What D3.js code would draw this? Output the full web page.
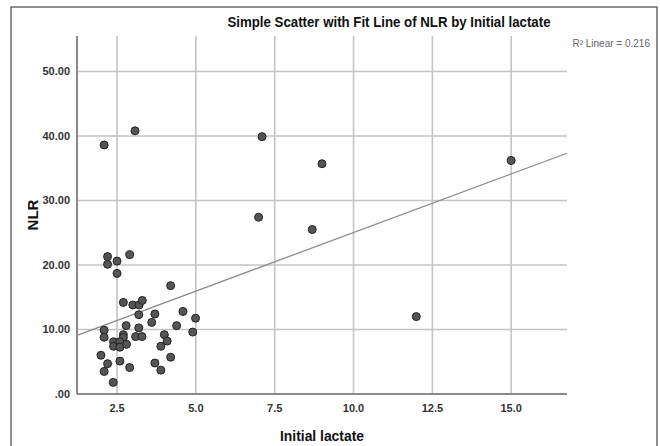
<!DOCTYPE html>
<html>
<head>
<meta charset="utf-8">
<script src="https://cdn.jsdelivr.net/npm/d3@7"></script>
<style>
    body { margin: 0; background: #fff; }
    svg { display: block; font-family: "Liberation Sans", Arial, sans-serif; }
    .grid line { stroke: #c4c4c4; stroke-width: 1.6; }
    .axis-line { stroke: #8a8a8a; stroke-width: 2; }
    .tick-label { font-size: 11px; fill: #333; font-weight: bold; }
    .fit-line { stroke: #8c8c8c; stroke-width: 1.3; fill: none; }
    .dot { fill: #555; stroke: #222; stroke-width: 1; }
</style>
</head>
<body>
<svg id="chart" width="660" height="446"></svg>
<script>
// Initial lactate values (x)
const lactate = [
    2.09, 3.07, 7.10, 9.00, 6.99, 8.69, 11.99, 15.0,
    2.20, 2.20, 2.50, 2.90, 2.50, 4.20,
    2.70, 3.00, 3.20, 3.30, 3.19, 3.70, 4.59, 4.99,
    3.60, 4.39, 2.79, 3.19, 4.90, 2.09, 2.09,
    2.70, 2.70, 3.09, 3.29, 4.00, 4.09,
    2.39, 2.39, 2.59, 2.59, 2.80, 3.89,
    1.99, 2.20, 2.09, 2.59, 2.90, 3.70, 4.20, 3.89, 2.38
];
// NLR values (y), same order
const nlr = [
    38.6, 40.8, 39.9, 35.7, 27.4, 25.5, 12.0, 36.2,
    21.3, 20.1, 20.6, 21.6, 18.7, 16.8,
    14.2, 13.8, 13.8, 14.5, 12.3, 12.4, 12.8, 11.75,
    11.1, 10.6, 10.6, 10.25, 9.6, 9.9, 8.8,
    9.2, 8.75, 8.9, 8.9, 9.2, 8.2,
    8.1, 7.4, 8.1, 7.25, 7.7, 7.4,
    6.0, 4.7, 3.5, 5.1, 4.1, 4.8, 5.7, 3.7, 1.8
];
const xTicks = [2.5, 5.0, 7.5, 10.0, 12.5, 15.0];
const yTicks = [0, 10, 20, 30, 40, 50];
// linear fit: NLR = intercept + slope * lactate
const fitIntercept = 6.87;
const fitSlope = 1.816;
const rSquared = 0.216;

const svg = d3.select('#chart');

// outer frame
svg.append('rect')
    .attr('x', 11).attr('y', 7)
    .attr('width', 646).attr('height', 460)
    .attr('fill', 'none')
    .attr('stroke', '#6a6a6a')
    .attr('stroke-width', 1.5);

const x = d3.scaleLinear().domain([1.23, 16.77]).range([77, 567]);
const y = d3.scaleLinear().domain([0, 55.5]).range([394, 36]);

// gridlines
const grid = svg.append('g').attr('class', 'grid');
grid.selectAll('.vg')
    .data(xTicks)
    .enter().append('line')
    .attr('x1', d => x(d)).attr('x2', d => x(d))
    .attr('y1', y.range()[1]).attr('y2', y.range()[0]);
grid.selectAll('.hg')
    .data(yTicks.filter(d => d > 0))
    .enter().append('line')
    .attr('x1', x.range()[0]).attr('x2', x.range()[1])
    .attr('y1', d => y(d)).attr('y2', d => y(d));

// axis lines
svg.append('line').attr('class', 'axis-line')
    .attr('x1', x.range()[0]).attr('x2', x.range()[1])
    .attr('y1', y(0)).attr('y2', y(0));
svg.append('line').attr('class', 'axis-line')
    .attr('x1', x.range()[0]).attr('x2', x.range()[0])
    .attr('y1', y.range()[1]).attr('y2', y(0));

// tick labels
const fmtY = d => d === 0 ? '.00' : d3.format('.2f')(d);
svg.selectAll('.ylab')
    .data(yTicks)
    .enter().append('text')
    .attr('class', 'tick-label')
    .attr('x', 70)
    .attr('y', d => y(d))
    .attr('dy', '0.35em')
    .attr('text-anchor', 'end')
    .text(fmtY);
svg.selectAll('.xlab')
    .data(xTicks)
    .enter().append('text')
    .attr('class', 'tick-label')
    .attr('x', d => x(d))
    .attr('y', 412)
    .attr('text-anchor', 'middle')
    .text(d3.format('.1f'));

// fit line
const xd = x.domain();
svg.append('path')
    .attr('class', 'fit-line')
    .attr('d', d3.line()
        .x(d => x(d))
        .y(d => y(fitIntercept + fitSlope * d))(xd));

// points
const points = lactate.map((v, i) => ({ x: v, y: nlr[i] }));
svg.append('g')
    .selectAll('circle')
    .data(points)
    .enter().append('circle')
    .attr('class', 'dot')
    .attr('cx', d => x(d.x))
    .attr('cy', d => y(d.y))
    .attr('r', 4);

// title
svg.append('text')
    .attr('x', 389).attr('y', 27)
    .attr('text-anchor', 'middle')
    .attr('font-size', 14)
    .attr('font-weight', 'bold')
    .attr('fill', '#111')
    .attr('textLength', 323)
    .attr('lengthAdjust', 'spacingAndGlyphs')
    .text('Simple Scatter with Fit Line of NLR by Initial lactate');

// R squared note
svg.append('text')
    .attr('x', 650).attr('y', 47)
    .attr('text-anchor', 'end')
    .attr('font-size', 10)
    .attr('fill', '#666')
    .text('R\u00B2 Linear = ' + d3.format('.3f')(rSquared));

// axis titles
svg.append('text')
    .attr('transform', 'translate(38,215) rotate(-90)')
    .attr('text-anchor', 'middle')
    .attr('font-size', 15)
    .attr('font-weight', 'bold')
    .attr('fill', '#111')
    .text('NLR');
svg.append('text')
    .attr('x', 322).attr('y', 441)
    .attr('text-anchor', 'middle')
    .attr('font-size', 15)
    .attr('font-weight', 'bold')
    .attr('fill', '#111')
    .attr('textLength', 84)
    .attr('lengthAdjust', 'spacingAndGlyphs')
    .text('Initial lactate');
</script>
</body>
</html>
